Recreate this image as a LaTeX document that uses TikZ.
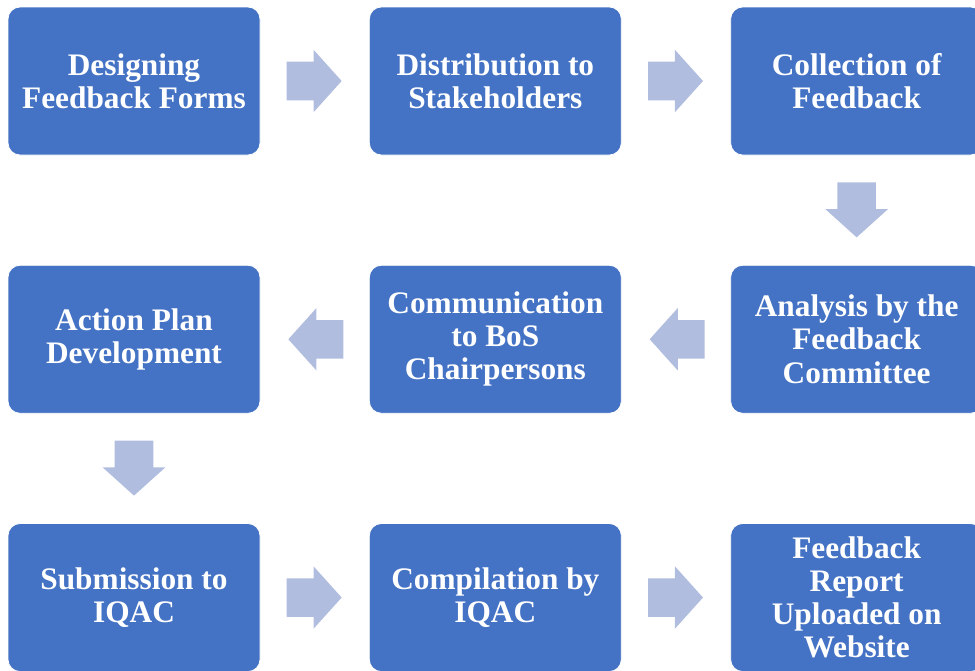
\documentclass[tikz,border=0pt]{standalone}
\usepackage{fontspec}
\setmainfont{Liberation Serif}
\usetikzlibrary{positioning,shapes.arrows}
\definecolor{stageblue}{HTML}{4472C4}
\definecolor{flowblue}{HTML}{B0BDDF}

\begin{document}
\begin{tikzpicture}
[x=0.75pt,y=-0.75pt,%
  stage/.style={rectangle,rounded corners=9pt,fill=stageblue,draw=white,line width=0.6pt,
    minimum width=189pt,minimum height=111pt,inner sep=0pt,align=center,text=white,
    font=\bfseries\fontsize{23.5}{24.8}\selectfont},%
  flow/.style={single arrow,fill=flowblue,minimum height=41.25pt,inner xsep=0pt,
    inner ysep=14.25pt,single arrow head extend=9pt,single arrow tip angle=96,anchor=tail},%
  node distance=82.1pt and 81.4pt]
\useasboundingbox (0,0) rectangle (975,671);
\clip (0,0) rectangle (975,671);
% first row
\node[stage] (design) at (134,81) {Designing\\Feedback Forms};
\node[stage,right=of design] (distrib) {Distribution to\\Stakeholders};
\node[stage,right=of distrib] (collect) {Collection of\\Feedback};
% second row
\node[stage,below=of collect] (analysis) {Analysis by the\\Feedback\\Committee};
\node[stage,left=of analysis] (commun) {Communication\\to BoS\\Chairpersons};
\node[stage,left=of commun] (action) {Action Plan\\Development};
% third row
\node[stage,below=of action] (submit) {Submission to\\IQAC};
\node[stage,right=of submit] (compile) {Compilation by\\IQAC};
\node[stage,right=of compile] (report) {Feedback\\Report\\Uploaded on\\Website};
% arrows
\node[flow] (f1) at ([xshift=19.5pt]design.east) {};
\node[flow] (f2) at ([xshift=19.5pt]distrib.east) {};
\node[flow,rotate=-90] (f3) at ([yshift=-20pt]collect.south) {};
\node[flow,rotate=180] (f4) at ([xshift=-19pt]analysis.west) {};
\node[flow,rotate=180] (f5) at ([xshift=-19pt]commun.west) {};
\node[flow,rotate=-90] (f6) at ([yshift=-20pt]action.south) {};
\node[flow] (f7) at ([xshift=19.5pt]submit.east) {};
\node[flow] (f8) at ([xshift=19.5pt]compile.east) {};
\end{tikzpicture}
\end{document}
